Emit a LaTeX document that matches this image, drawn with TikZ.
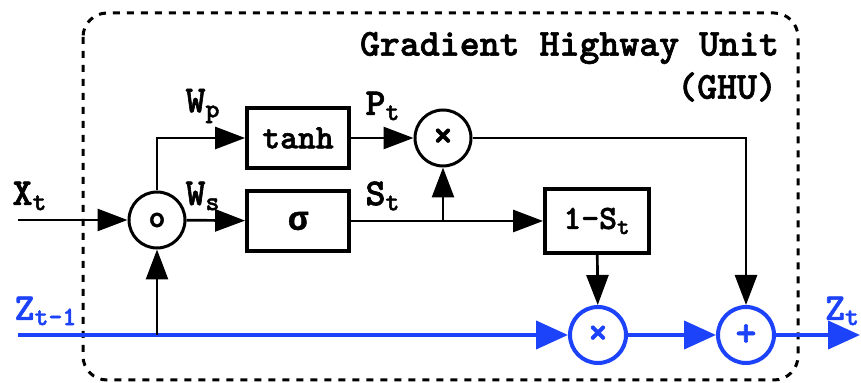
\documentclass[tikz,border=0pt]{standalone}
\usepackage{tikz}
\usepackage{fontspec}
\setmonofont{lmmonolt10-bold.otf}[FakeBold=1.6,BoldFont=lmmonolt10-bold.otf,BoldFeatures={FakeBold=1.6}]
\newfontfamily\greekfont{Liberation Mono}[FakeBold=1.2]
\usetikzlibrary{arrows.meta}
\definecolor{ghublue}{RGB}{28,66,250}

\begin{document}
\begin{tikzpicture}[x=0.5pt,y=-0.5pt,
  every node/.style={font=\ttfamily\fontsize{19}{22}\selectfont},
  op/.style={draw,circle,line width=1.5pt,minimum size=28pt,inner sep=0pt,font=\ttfamily\fontsize{20}{20}\selectfont},
  blk/.style={draw,rectangle,line width=1.9pt,minimum width=51pt,minimum height=30pt,font=\ttfamily\fontsize{17}{20}\selectfont},
  arr/.style={line width=1.35pt,-{Triangle[length=15pt,width=11pt]}},
  barr/.style={ghublue,line width=2pt,-{Triangle[length=16pt,width=14pt]}},
  unit/.style={line width=1.5pt,dash pattern=on 3.5pt off 3.5pt,rounded corners=12}]
\useasboundingbox (0,0) rectangle (861,383);
% unit frame
\draw[unit] (83,13) rectangle (798,380);
\node[anchor=east] (title) at (786,48) {Gradient Highway Unit};
\node[anchor=east] (ghu) at (784,87) {(GHU)};
% gates
\node[op,font=\ttfamily\fontsize{16}{16}\selectfont] (cat) at (157,220) {o};
\node[blk] (tanh) at (298,138) {tanh};
\node[blk] (sig) at (298,221) {\greekfont\bfseries σ};
\node[op] (mulp) at (443,138) {×};
\node[blk,minimum width=52pt,minimum height=32pt] (oms) at (597,221) {1-S\textsubscript{t}};
\node[op,ghublue,line width=2pt] (mulz) at (598,335) {×};
\node[op,ghublue,line width=2pt] (addz) at (746,335) {+};
% labels
\node (xt) at (30,196) {X\textsubscript{t}};
\node (wp) at (203,106) {W\textsubscript{p}};
\node (ws) at (203,196) {W\textsubscript{s}};
\node (pt) at (383,106) {P\textsubscript{t}};
\node (st) at (383,196) {S\textsubscript{t}};
\node[ghublue] (zin) at (46,311) {Z\textsubscript{t-1}};
\node[ghublue,anchor=west] (zout) at (818,311) {Z\textsubscript{t}};
% connectors
\coordinate (xsrc) at (18,220);
\coordinate (zsrc) at (18,335);
\coordinate (zdst) at (860,335);
\coordinate (sj) at (mulp |- sig);
\draw[arr] (xsrc) -- (cat);
\draw[arr] (cat.north) |- (tanh);
\draw[arr] (cat) -- (sig);
\draw[arr] (tanh) -- (mulp);
\draw[arr] (sig) -- (oms);
\draw[arr] (sj) -- (mulp);
\draw[arr] (mulp) -| (addz);
\draw[arr] (oms) -- (mulz);
\draw[barr] (zsrc) -- (mulz);
\draw[barr] (mulz) -- (addz);
\draw[barr] (addz) -- (zdst);
\draw[arr] (cat |- zsrc) -- (cat);
\end{tikzpicture}
\end{document}
